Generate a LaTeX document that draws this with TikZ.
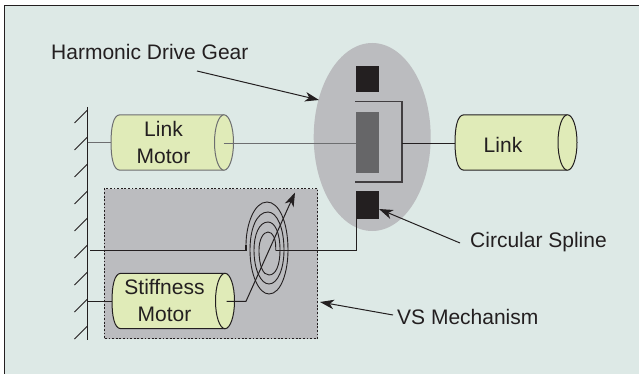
\documentclass[tikz,border=0pt]{standalone}
\usepackage{fontspec}
\setmainfont{Liberation Sans}
\usetikzlibrary{arrows.meta}
\definecolor{bgc}{HTML}{DDE9E6}
\definecolor{inkc}{HTML}{231F20}
\definecolor{greyc}{HTML}{BBBCBF}
\definecolor{motorc}{HTML}{E0EBB8}
\definecolor{midc}{HTML}{666668}
\definecolor{linec}{HTML}{6D6E70}
\tikzset{x=1pt,y=-1pt,
  lab/.style={font=\fontsize{21pt}{27pt}\selectfont,text=inkc,inner sep=0pt,align=center},
  conn/.style={draw=inkc,line width=1pt},
  thin conn/.style={draw=linec,line width=1pt},
  tip/.style={-{Stealth[length=14pt,width=9.5pt,inset=4pt]}},
  block/.style={fill=inkc,draw=none},
}
\newcommand{\cyl}[5]{% x0,x1,ymid,halfheight,edge colour
  \fill[motorc] (#1+9,#3-#4) -- (#2,#3-#4) -- (#2,#3+#4) -- (#1+9,#3+#4) .. controls (#1+2,#3+#4) and (#1,#3+#4*0.5) .. (#1,#3) .. controls (#1,#3-#4*0.5) and (#1+2,#3-#4) .. (#1+9,#3-#4) -- cycle;
  \draw[#5,line width=1pt] (#2,#3-#4) -- (#1+9,#3-#4) .. controls (#1+2,#3-#4) and (#1,#3-#4*0.5) .. (#1,#3) .. controls (#1,#3+#4*0.5) and (#1+2,#3+#4) .. (#1+9,#3+#4) -- (#2,#3+#4);
  \draw[#5,line width=1pt,fill=motorc] (#2,#3) ellipse [x radius=9.5,y radius=#4];
}
\begin{document}
\begin{tikzpicture}
\useasboundingbox (0,0) rectangle (639,374);
\fill[white] (0,0) rectangle (639,374);
\fill[bgc] (4.5,5.5) rectangle (639,374);
\draw[inkc,line width=1pt] (4.5,374) -- (4.5,5.5) -- (639,5.5);
% ellipse
\fill[greyc] (372.2,137) ellipse [x radius=58.5,y radius=94];
% harmonic parts
\fill[block] (356.3,66) rectangle (379.3,92.5);
\fill[midc] (356.3,111.7) rectangle (379,173);
\fill[block] (356.3,190.7) rectangle (379.3,218.7);
\draw[draw=inkc!80!greyc,line width=1.2pt] (355,101.7) -- (402,101.7) -- (402,182) -- (355,182);
% VS box
\fill[greyc] (104,188.5) rectangle (317.7,338.7);
\draw[inkc,line width=1pt,dash pattern=on 1.8pt off 1.8pt] (104,188.5) rectangle (317.7,338.7);
% wall
\draw[inkc,line width=1.1pt] (87.5,107) -- (87.5,339.5);
\foreach \yy in {123,150,177,204,231,258,285,312,339}{
  \draw[inkc,line width=1pt] (87.5,\yy-13) -- (74.5,\yy);
}
% motors
\coordinate (wallA) at (87.5,143);
\coordinate (wallB) at (90,250.5);
\coordinate (wallC) at (87.5,301.3);
\cyl{111}{224}{142.5}{27.7}{linec}
\cyl{112}{225}{301}{27.7}{inkc}
\cyl{455}{567.5}{142.5}{27.7}{inkc}
\node[lab] (linkmotor) at (163.5,142) {Link\\Motor};
\node[lab] (stiffmotor) at (164.5,300.5) {Stiffness\\Motor};
\node[lab] (link) at (503,144.5) {Link};
% connectors
\draw[thin conn] (wallA) -- (111,143);
\draw[thin conn] (223.5,143.3) -- (356.3,143.3);
\draw[conn] (402,143.3) -- (455,143.3);
\draw[conn] (wallC) -- (112,301.3);
\draw[conn,line width=1.1pt] (wallB) -- (246,250.5) -- (246,245);
\draw[conn,line width=1.1pt] (275.7,250.5) -- (356.8,250.5) -- (356.8,218);
% spring
\draw[inkc,line width=0.9pt]
 (275.7,250.5) -- (275.7,247)
 .. controls (275.7,239) and (273,232) .. (268,232)
 .. controls (263,232) and (259,240) .. (259,250)
 .. controls (259,266) and (263,275) .. (269,275)
 .. controls (276,275) and (280,265) .. (280,250)
 .. controls (280,233) and (275,222) .. (268,222)
 .. controls (259,222) and (254,235) .. (254,250)
 .. controls (254,270) and (261,284) .. (269,284)
 .. controls (278,284) and (284,268) .. (284,250)
 .. controls (284,228) and (277,212) .. (268,212)
 .. controls (256,212) and (250,230) .. (250,250)
 .. controls (250,275) and (259,294) .. (269,294)
 .. controls (281,294) and (288,272) .. (288,250)
 .. controls (288,222) and (279,202) .. (267,202)
 .. controls (254,202) and (246,225) .. (246,245);
\coordinate (springin) at (226.5,301.3);
\coordinate (kneeS) at (246,301.3);
\coordinate (arrowtip) at (295,192.5);
\draw[conn,tip] (springin) -- (kneeS) -- (arrowtip);
% labels
\node[lab,anchor=west] (hdg) at (51,52) {Harmonic Drive Gear};
\node[lab,anchor=west] (cs) at (470,242.5) {Circular Spline};
\node[lab,anchor=west] (vs) at (397,317) {VS Mechanism};
\coordinate (hdgS) at (197,71);
\coordinate (hdgE) at (319,100);
\coordinate (csS) at (460,243);
\coordinate (csE) at (379,209);
\coordinate (vsS) at (393,315);
\coordinate (vsE) at (320,302);
\draw[conn,tip] (hdgS) -- (hdgE);
\draw[conn,tip] (csS) -- (csE);
\draw[conn,tip] (vsS) -- (vsE);
\end{tikzpicture}
\end{document}
